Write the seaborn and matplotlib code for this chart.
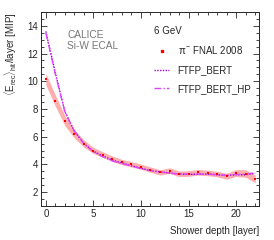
import numpy as np
import pandas as pd
import seaborn as sns
import matplotlib
matplotlib.use('Agg')
import matplotlib.pyplot as plt
from matplotlib.lines import Line2D
from matplotlib.ticker import MultipleLocator

# data
layers = list(range(23))
data_mean = [10.15, 8.6, 7.15, 6.2, 5.5, 5.0, 4.7, 4.4, 4.17, 4.0, 3.83, 3.62,
             3.42, 3.55, 3.32, 3.34, 3.43, 3.38, 3.3, 3.14, 3.38, 3.34, 2.95]
data_err = [0.42, 0.4, 0.36, 0.3, 0.26, 0.22, 0.2, 0.2, 0.19, 0.19, 0.19, 0.19,
            0.19, 0.2, 0.2, 0.2, 0.2, 0.2, 0.2, 0.21, 0.25, 0.27, 0.28]
ftfp_bert = [13.6, 10.6, 7.8, 6.4, 5.5, 4.95, 4.6, 4.3, 4.1, 3.9, 3.72, 3.55,
             3.45, 3.38, 3.3, 3.28, 3.28, 3.3, 3.25, 3.2, 3.25, 3.25, 3.35]
ftfp_bert_hp = [13.5, 10.5, 7.8, 6.4, 5.5, 4.9, 4.55, 4.25, 4.05, 3.88, 3.7, 3.55,
                3.45, 3.37, 3.3, 3.3, 3.3, 3.3, 3.25, 3.2, 3.28, 3.28, 3.4]

df = pd.DataFrame({'layer': layers, 'data': data_mean, 'err': data_err,
                   'bert': ftfp_bert, 'hp': ftfp_bert_hp})

sns.set_style('ticks')
plt.rcParams['font.family'] = ['Liberation Sans', 'DejaVu Sans']
plt.rcParams['mathtext.fontset'] = 'custom'
plt.rcParams['mathtext.rm'] = 'Liberation Sans'
plt.rcParams['mathtext.it'] = 'Liberation Sans'

fig = plt.figure(figsize=(2.74, 2.4), dpi=100)
ax = fig.add_axes([0.150, 0.142, 0.795, 0.808])

red = '#ff0000'
band = '#ffa0a0'
c_bert = '#9900cc'
c_hp = '#dd44ff'

ax.fill_between(df['layer'], df['data'] - df['err'], df['data'] + df['err'],
                color=band, alpha=0.85, lw=0)
sns.lineplot(data=df, x='layer', y='bert', ax=ax, color=c_bert, lw=1.0,
             linestyle=(0, (1, 1)))
sns.lineplot(data=df, x='layer', y='hp', ax=ax, color=c_hp, lw=1.0,
             linestyle=(0, (5, 1.5, 1, 1.5)))
sns.scatterplot(data=df, x='layer', y='data', ax=ax, color=red, s=3,
                marker='s', linewidth=0, zorder=5)

ax.set_xlim(-0.5, 22.4)
ax.set_ylim(1, 15)
ax.xaxis.set_major_locator(MultipleLocator(5))
ax.xaxis.set_minor_locator(MultipleLocator(1))
ax.yaxis.set_major_locator(MultipleLocator(2))
ax.yaxis.set_minor_locator(MultipleLocator(0.5))
ax.tick_params(which='both', direction='in', top=True, right=True,
               labelsize=7, width=0.6, pad=2)
ax.tick_params(which='major', length=4)
ax.tick_params(which='minor', length=2)
for s in ax.spines.values():
    s.set_linewidth(0.7)

ax.set_xlabel('Shower depth [layer]', fontsize=7, loc='right', labelpad=5)
ax.set_ylabel(r'$\langle E_{\rm rec}\rangle_{\rm hit}$/layer [MIP]', fontsize=7,
              loc='top', labelpad=6)

ax.text(0.12, 0.905, 'CALICE\nSi-W ECAL', transform=ax.transAxes, fontsize=7.3,
        color='#777777', va='top', linespacing=1.1)

handles = [Line2D([], [], color=red, marker='s', markersize=1.6, ls='none'),
           Line2D([], [], color=c_bert, lw=1.0, ls=(0, (1, 1))),
           Line2D([], [], color=c_hp, lw=1.0, ls=(0, (5, 1.5, 1, 1.5)))]
labels = [r'$\pi^{-}$ FNAL 2008', 'FTFP_BERT', 'FTFP_BERT_HP']
leg = ax.legend(handles, labels, title='6 GeV', fontsize=7, title_fontsize=7,
                frameon=False, loc='upper left', bbox_to_anchor=(0.52, 0.93),
                handlelength=1.5, handletextpad=0.9, labelspacing=0.9,
                borderpad=0, borderaxespad=0, alignment='left')

fig.savefig('out.png', dpi=100)
